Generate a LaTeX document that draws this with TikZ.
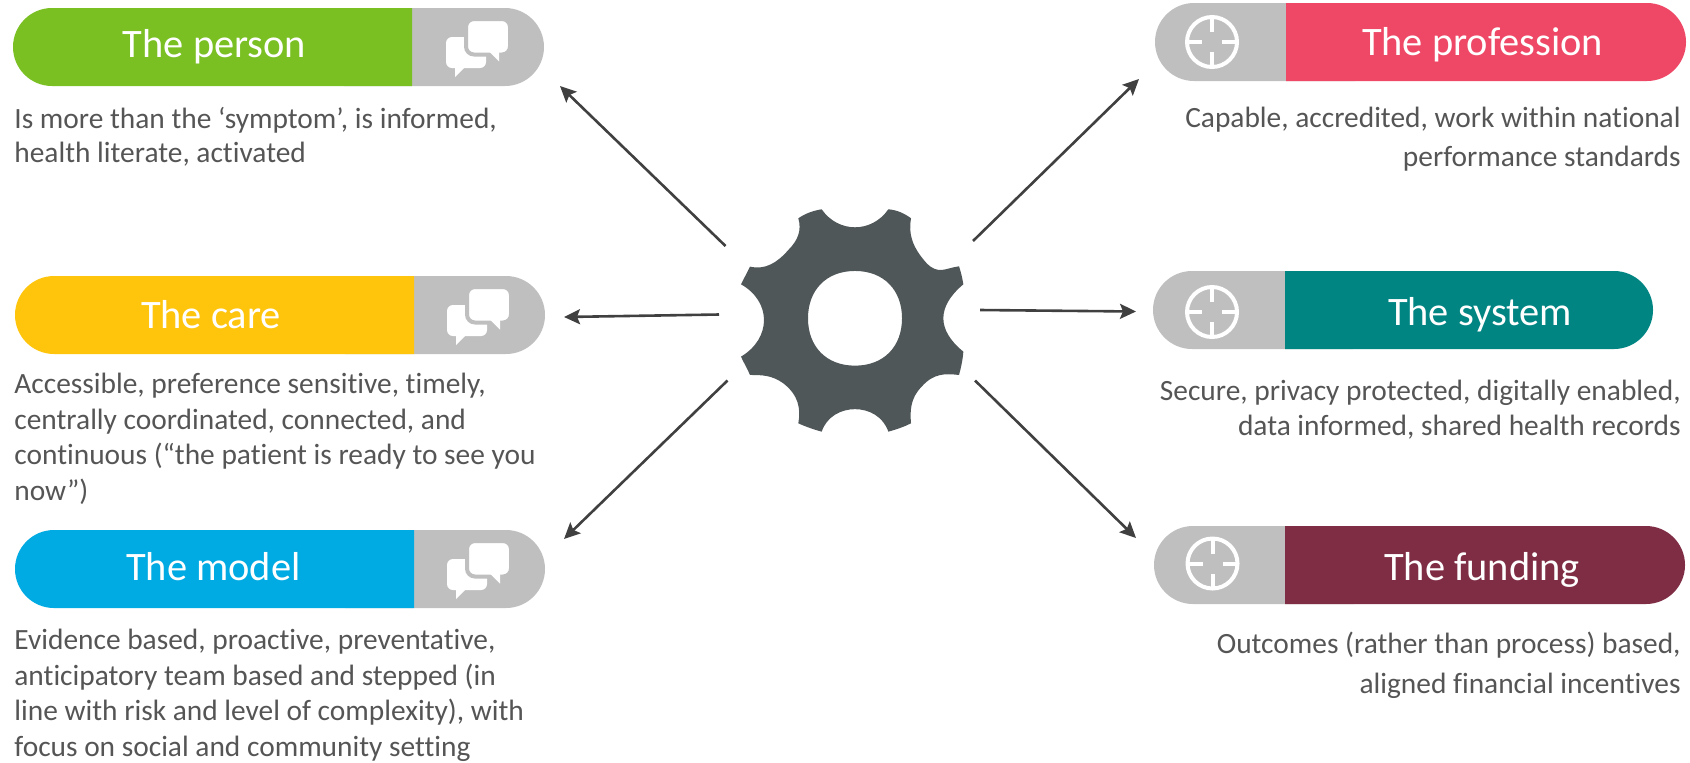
\documentclass[tikz,border=0pt]{standalone}
\usepackage{fontspec}
\setmainfont[Ligatures=NoCommon]{Carlito}
\usetikzlibrary{arrows.meta,shapes.misc}

\definecolor{colperson}{HTML}{7AC023}
\definecolor{colcare}{HTML}{FFC50D}
\definecolor{colmodel}{HTML}{00AAE2}
\definecolor{colprofession}{HTML}{EF4866}
\definecolor{colsystem}{HTML}{008583}
\definecolor{colfunding}{HTML}{7F2D45}
\definecolor{colgrey}{HTML}{BFBFBF}
\definecolor{colgear}{HTML}{505759}
\definecolor{colarrow}{HTML}{404040}
\definecolor{coltext}{HTML}{555555}

\tikzset{
  leftbar/.style={rounded rectangle, rounded rectangle east arc=none, fill=#1,
    anchor=west, minimum height=39pt, inner sep=0pt, outer sep=0pt},
  rightbar/.style={rounded rectangle, rounded rectangle west arc=none, fill=#1,
    anchor=east, minimum height=39pt, inner sep=0pt, outer sep=0pt},
  bartitle/.style={anchor=base, inner sep=0pt, text=white,
    font=\fontsize{20.2}{24}\selectfont},
  leftnote/.style={anchor=north west, align=left, inner sep=0pt, text=coltext,
    font=\fontsize{14.7}{17.7}\selectfont},
  rightnote/.style={anchor=north east, align=right, inner sep=0pt, text=coltext,
    font=\fontsize{14.7}{17.7}\selectfont},
  spoke/.style={-{Stealth[length=8pt,width=7.5pt,inset=1.5pt]}, draw=colarrow, line width=1.3pt},
  pics/chaticon/.style={code={
    \fill[white, rounded corners=3pt] (-31,-12) -- (-31,19) -- (9,19) -- (9,-12) -- cycle;
    \fill[white] (-22,18) -- (-22,28) -- (-12,18) -- cycle;
    \fill[white, draw=colgrey, line width=2pt, rounded corners=4pt] (-11,-30) -- (33,-30) -- (33,5.5) -- (-11,5.5) -- cycle;
    \fill[white] (12,2.5) -- (22,12.5) -- (22,2.5) -- cycle;
  }},
  pics/targeticon/.style={code={
    \draw[white, line width=2pt] (0,0) circle (25);
    \draw[white, line width=2pt] (0,-24) -- (0,-10) (0,24) -- (0,10)
      (-24,0) -- (-10,0) (24,0) -- (10,0);
  }}
}

\begin{document}
\begin{tikzpicture}[x=0.5pt, y=-0.5pt]
\useasboundingbox (0,0) rectangle (1690,762);

%part person
\node[rightbar=colgrey, minimum width=100pt] (personicon) at (544,47) {};
\node[leftbar=colperson, minimum width=199.5pt] (person) at (13,47) {};
\node[bartitle] (persontitle) at (214.5,57.3) {The person};
\pic at (477,49) {chaticon};
\node[leftnote] (personnote) at (14,106.5) {Is more than the ‘symptom’, is informed,\\[-0.5pt]health literate, activated};

%part care
\node[rightbar=colgrey, minimum width=100pt] (careicon) at (545,315) {};
\node[leftbar=colcare, minimum width=199.5pt] (care) at (15,315) {};
\node[bartitle] (caretitle) at (211,328) {The care};
\pic at (478,317) {chaticon};
\node[leftnote] (carenote) at (14,373) {Accessible, preference sensitive, timely,\\centrally coordinated, connected, and\\continuous (“the patient is ready to see you\\now”)};

%part model
\node[rightbar=colgrey, minimum width=100pt] (modelicon) at (545,569) {};
\node[leftbar=colmodel, minimum width=199.5pt] (model) at (15,569) {};
\node[bartitle] (modeltitle) at (213.4,580) {The model};
\pic at (478,571) {chaticon};
\node[leftnote] (modelnote) at (14,629) {Evidence based, proactive, preventative,\\anticipatory team based and stepped (in\\line with risk and level of complexity), with\\focus on social and community setting};

%part profession
\node[leftbar=colgrey, minimum width=100pt] (professionicon) at (1155,42) {};
\node[rightbar=colprofession, minimum width=200pt] (profession) at (1686,42) {};
\node[bartitle] (professiontitle) at (1482.5,55.5) {The profession};
\pic at (1212,42) {targeticon};
\node[rightnote] (professionnote) at (1681,107) {Capable, accredited, work within national\\[1.5pt]performance standards};

%part system
\node[leftbar=colgrey, minimum width=100pt] (systemicon) at (1153,310) {};
\node[rightbar=colsystem, minimum width=184pt] (system) at (1653,310) {};
\node[bartitle] (systemtitle) at (1480,325.7) {The system};
\pic at (1212,312) {targeticon};
\node[rightnote] (systemnote) at (1681,379.5) {Secure, privacy protected, digitally enabled,\\data informed, shared health records};

%part funding
\node[leftbar=colgrey, minimum width=100pt] (fundingicon) at (1154,565) {};
\node[rightbar=colfunding, minimum width=200pt] (funding) at (1685,565) {};
\node[bartitle] (fundingtitle) at (1482,580) {The funding};
\pic at (1212.5,563.5) {targeticon};
\node[rightnote] (fundingnote) at (1681,632) {Outcomes (rather than process) based,\\[2pt]aligned financial incentives};

%part gear
\begin{scope}[shift={(855,318.3)}, x=0.1667pt, y=-0.1667pt]
\fill[colgear, even odd rule]
  (-100,-327) .. controls (-50,-255) and (50,-255) .. (100,-327)
  .. controls (125,-325) and (148,-315) .. (168,-300)
  .. controls (160,-255) and (170,-215) .. (215,-165)
  .. controls (250,-130) and (270,-150) .. (312,-156)
  .. controls (318,-138) and (322,-120) .. (325,-102)
  .. controls (245,-35) and (245,35) .. (325,100)
  .. controls (323,125) and (318,148) .. (312,170)
  .. controls (270,165) and (235,165) .. (200,205)
  .. controls (165,240) and (165,280) .. (168,315)
  .. controls (148,325) and (125,333) .. (100,340)
  .. controls (70,250) and (-70,250) .. (-100,340)
  .. controls (-125,333) and (-148,325) .. (-170,315)
  .. controls (-162,270) and (-170,230) .. (-215,195)
  .. controls (-250,170) and (-280,170) .. (-315,170)
  .. controls (-323,150) and (-333,135) .. (-342,115)
  .. controls (-250,60) and (-250,-50) .. (-342,-102)
  .. controls (-333,-120) and (-323,-138) .. (-315,-155)
  .. controls (-270,-145) and (-235,-165) .. (-200,-205)
  .. controls (-170,-235) and (-160,-265) .. (-170,-300)
  .. controls (-148,-315) and (-125,-323) .. (-100,-327) -- cycle
  (0,-142) .. controls (87,-142) and (141,-84) .. (141,0)
  .. controls (141,84) and (87,142) .. (0,142)
  .. controls (-87,142) and (-141,84) .. (-141,0)
  .. controls (-141,-84) and (-87,-142) .. (0,-142) -- cycle;
\end{scope}

%part arrows
\coordinate (personstart) at (725.5,246);
\coordinate (personend) at (560,86);
\coordinate (carestart) at (719,314.5);
\coordinate (careend) at (564,317);
\coordinate (modelstart) at (727.5,380.5);
\coordinate (modelend) at (564,539);
\coordinate (professionstart) at (973,241);
\coordinate (professionend) at (1139,79);
\coordinate (systemstart) at (980,310);
\coordinate (systemend) at (1136,311.5);
\coordinate (fundingstart) at (975,380.5);
\coordinate (fundingend) at (1136,538);
\draw[spoke] (personstart) -- (personend);
\draw[spoke] (carestart) -- (careend);
\draw[spoke] (modelstart) -- (modelend);
\draw[spoke] (professionstart) -- (professionend);
\draw[spoke] (systemstart) -- (systemend);
\draw[spoke] (fundingstart) -- (fundingend);

\end{tikzpicture}
\end{document}
